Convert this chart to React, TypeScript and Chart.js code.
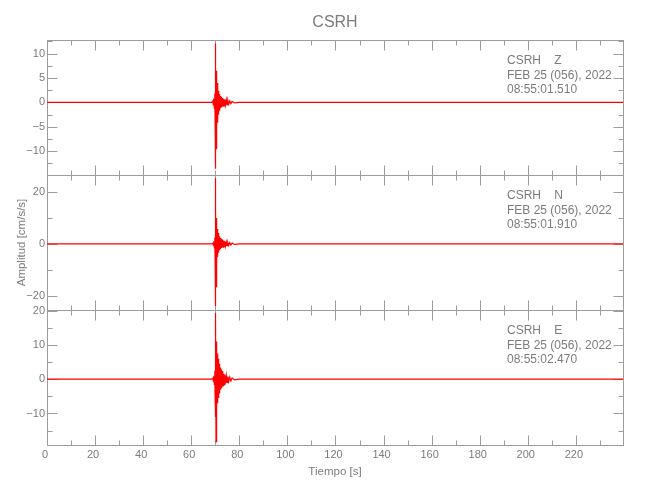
import React, { useEffect, useRef } from 'react';
import { Chart, registerables } from 'chart.js';

Chart.register(...registerables);

// ---------- text ----------
const TITLE = 'CSRH';
const STATION = 'CSRH';
const DATE_LABEL = 'FEB 25 (056), 2022';
const COMPONENTS = ['Z', 'N', 'E'];
const START_TIMES = ['08:55:01.510', '08:55:01.910', '08:55:02.470'];
const X_LABEL = 'Tiempo [s]';
const Y_LABEL = 'Amplitud [cm/s/s]';

// ---------- data (seconds, cm/s/s) ----------
const TIME = [
  0, 30, 60, 68.5,
  69.0, 69.2, 69.4, 69.6, 69.8, 69.9,
  70.0, 70.1, 70.2, 70.3, 70.4, 70.5, 70.6, 70.7, 70.8, 70.9,
  71.0, 71.1, 71.2, 71.3, 71.4, 71.5, 71.6, 71.7, 71.8, 71.9,
  72.0, 72.2, 72.4, 72.6, 72.8, 73.0, 73.2, 73.4, 73.6, 73.8,
  74.0, 74.3, 74.6, 74.9, 75.2, 75.6, 76.0, 76.5, 77.0, 78.0,
  80.0, 100, 140, 180, 220, 239.6,
];

const AMP_Z = [
  0, 0, 0, 0,
  0.3, -0.5, 0.8, -1.2, 1.8, -2.5,
  12.1, -13.6, 8.5, -9.5, 6.5, -7.5, 5.0, -5.5, 4.0, -4.2,
  3.0, -3.2, 2.4, -2.5, 2.0, -2.0, 1.7, -1.7, 1.5, -1.5,
  1.3, -1.2, 1.1, -1.0, 0.9, -0.85, 0.8, -0.75, 0.7, -0.65,
  0.6, -0.55, 0.5, -0.45, 0.4, -0.35, 0.3, -0.25, 0.2, -0.12,
  0, 0, 0, 0, 0, 0,
];

const AMP_N = [
  0, 0, 0, 0,
  0.3, -0.5, 1.0, -1.5, 2.5, -3.5,
  25.4, -24.0, 15.5, -16.5, 10.0, -12.0, 7.5, -8.0, 5.8, -5.0,
  5.0, -4.0, 4.2, -3.3, 3.5, -2.8, 3.0, -2.4, 2.6, -2.1,
  2.3, -1.9, 2.0, -1.6, 1.7, -1.4, 1.4, -1.2, 1.2, -1.0,
  1.0, -0.85, 0.8, -0.7, 0.6, -0.55, 0.5, -0.4, 0.3, -0.2,
  0, 0, 0, 0, 0, 0,
];

const AMP_E = [
  0, 0, 0, 0,
  0.3, -0.6, 1.0, -1.5, 2.5, -4.0,
  12.0, -11.0, 19.3, -18.2, 11.0, -10.5, 9.0, -8.5, 7.5, -7.0,
  6.8, -6.2, 6.0, -5.5, 5.2, -4.8, 4.5, -4.2, 3.9, -3.7,
  3.4, -3.1, 2.8, -2.6, 2.4, -2.2, 2.0, -1.8, 1.6, -1.5,
  1.3, -1.2, 1.0, -0.9, 0.8, -0.7, 0.6, -0.5, 0.35, -0.2,
  0, 0, 0, 0, 0, 0,
];

// axis limits and tick steps
const X_RANGE = [0, 239.6];
const X_STEPS = [10, 20]; // minor, major
const Z_RANGE = [-14.9, 12.8];
const Z_STEPS = [2.5, 5];
const N_RANGE = [-25.5, 26.6];
const N_STEPS = [10, 20];
const E_RANGE = [-19.2, 20.2];
const E_STEPS = [5, 10];

// ---------- styles ----------
const TEXT = '#7c7c7c';
const AXIS = '#9c9c9c';
const TRACE = '#ff0000';
const FONT = '"Liberation Sans", Arial, sans-serif';

const isMultiple = (v: number, step: number) => {
  const r = v / step;
  return Math.abs(r - Math.round(r)) < 1e-6;
};
const fmt = (v: number) => (v < 0 ? '\u2212' + String(Math.abs(v)) : String(v));

const PANELS = [
  { id: 'yZ', comp: 0, range: Z_RANGE, steps: Z_STEPS, amp: AMP_Z },
  { id: 'yN', comp: 1, range: N_RANGE, steps: N_STEPS, amp: AMP_N },
  { id: 'yE', comp: 2, range: E_RANGE, steps: E_STEPS, amp: AMP_E },
];

const framePlugin = {
  id: 'seisFrames',
  beforeDatasetsDraw(chart: any) {
    const ctx = chart.ctx as CanvasRenderingContext2D;
    const xs = chart.scales.x;
    const area = chart.chartArea;
    const L = Math.round(area.left) + 0.5;
    const R = Math.round(area.right) + 0.5;
    ctx.save();
    ctx.strokeStyle = AXIS;
    ctx.lineWidth = 1;
    const line = (x1: number, y1: number, x2: number, y2: number) => {
      ctx.beginPath();
      ctx.moveTo(x1, y1);
      ctx.lineTo(x2, y2);
      ctx.stroke();
    };
    PANELS.forEach((p) => {
      const s = chart.scales[p.id];
      const top = Math.round(s.top) + 0.5;
      const bottom = Math.round(s.bottom) + 0.5;
      ctx.strokeRect(L, top, R - L, bottom - top);
      xs.ticks.forEach((t: any) => {
        const v = t.value;
        if (!isMultiple(v, X_STEPS[0]) || v < X_RANGE[0] || v > X_RANGE[1]) return;
        const len = isMultiple(v, X_STEPS[1]) ? 10 : 5;
        const px = Math.round(xs.getPixelForValue(v)) + 0.5;
        line(px, top, px, top + len);
        line(px, bottom, px, bottom - len);
      });
      s.ticks.forEach((t: any) => {
        const v = t.value;
        if (!isMultiple(v, p.steps[0]) || v < p.range[0] || v > p.range[1]) return;
        const len = isMultiple(v, p.steps[1]) ? 10 : 5;
        const py = Math.round(s.getPixelForValue(v)) + 0.5;
        line(L, py, L + len, py);
        line(R, py, R - len, py);
      });
      // annotation
      ctx.fillStyle = TEXT;
      ctx.font = `12px ${FONT}`;
      ctx.textAlign = 'left';
      ctx.textBaseline = 'middle';
      const tx = area.right - 116;
      const lines = [`${STATION}    ${COMPONENTS[p.comp]}`, DATE_LABEL, START_TIMES[p.comp]];
      lines.forEach((ln, k) => ctx.fillText(ln, tx, s.top + 21 + k * 14.5));
    });
    ctx.restore();
  },
};

export default function App() {
  const ref = useRef<HTMLCanvasElement | null>(null);

  useEffect(() => {
    if (!ref.current) return;
    const tickFont = { family: FONT, size: 11 };
    const yScale = (p: any, withTitle: boolean) => ({
      type: 'linear',
      position: 'left',
      stack: 'panels',
      stackWeight: 1,
      min: p.range[0],
      max: p.range[1],
      grid: { display: false, drawTicks: false },
      border: { display: false },
      ticks: {
        stepSize: p.steps[0],
        autoSkip: false,
        includeBounds: false,
        padding: 2,
        color: TEXT,
        font: tickFont,
        callback: (v: any) => (isMultiple(Number(v), p.steps[1]) ? fmt(Number(v)) : ''),
      },
      title: withTitle
        ? { display: true, text: Y_LABEL, color: TEXT, font: { family: FONT, size: 11.5 }, padding: { top: 15, bottom: 0 } }
        : { display: false },
      afterFit: (s: any) => {
        s.width = 47;
      },
    });

    const datasets = PANELS.map((p) => ({
      label: COMPONENTS[p.comp],
      data: TIME.map((t, i) => ({ x: t, y: p.amp[i] })),
      yAxisID: p.id,
      borderColor: TRACE,
      backgroundColor: TRACE,
      borderWidth: 1.2,
      pointRadius: 0,
      tension: 0,
      fill: false,
    }));

    const chart = new Chart(ref.current, {
      type: 'line',
      data: { datasets: datasets as any },
      options: {
        animation: false,
        responsive: false,
        devicePixelRatio: 1,
        events: [],
        layout: { padding: { left: 0, right: 27, top: 0, bottom: 0 } },
        plugins: {
          legend: { display: false },
          tooltip: { enabled: false },
          title: {
            display: true,
            text: TITLE,
            fullSize: false,
            color: TEXT,
            font: { family: FONT, size: 16, weight: 'normal' },
            padding: { top: 13, bottom: 7.8 },
          },
        },
        scales: {
          x: {
            type: 'linear',
            position: 'bottom',
            min: X_RANGE[0],
            max: X_RANGE[1],
            grid: { display: false, drawTicks: false },
            border: { display: false },
            ticks: {
              stepSize: X_STEPS[0],
              autoSkip: false,
              includeBounds: false,
              maxRotation: 0,
              padding: 3,
              labelOffset: -2,
              color: TEXT,
              font: tickFont,
              callback: (v: any) => (isMultiple(Number(v), X_STEPS[1]) ? fmt(Number(v)) : ''),
            },
            title: { display: true, text: X_LABEL, color: TEXT, font: { family: FONT, size: 11.5 }, padding: { top: 0, bottom: 21 } },
            afterFit: (s: any) => {
              s.height = 55;
            },
          },
          yE: yScale(PANELS[2], false),
          yN: yScale(PANELS[1], true),
          yZ: yScale(PANELS[0], false),
        } as any,
      },
      plugins: [framePlugin],
    });
    return () => chart.destroy();
  }, []);

  return (
    <div style={{ position: 'absolute', left: 0, top: 0, width: 650, height: 500, background: '#fff' }}>
      <canvas ref={ref} width={650} height={500} style={{ display: 'block' }} />
    </div>
  );
}
